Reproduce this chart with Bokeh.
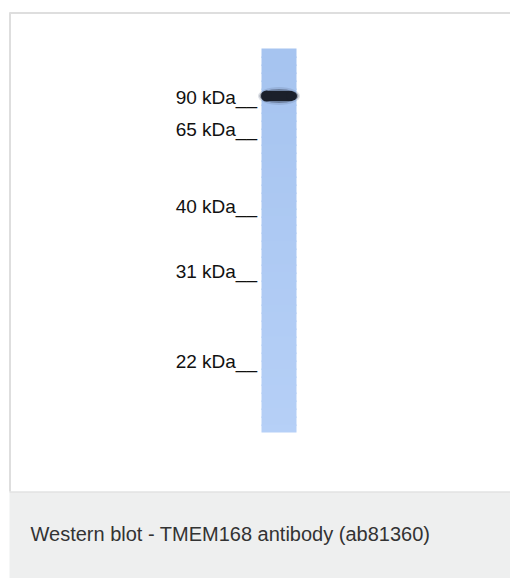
import numpy as np
from bokeh.plotting import figure
from bokeh.models import Range1d
from bokeh.embed import file_html
from bokeh.resources import INLINE
from bokeh.core.properties import value

# ---- data read from the blot ----
marker_labels = ["90 kDa__", "65 kDa__", "40 kDa__", "31 kDa__", "22 kDa__"]
marker_pos = [96.5, 129, 205.5, 271, 361]   # migration (label centre)
band_pos = [95.5]                           # migration of detected band
band_strength = [1.0]
caption = "Western blot - TMEM168 antibody (ab81360)"

# ---- layout (page pixels) ----
W, H = 510, 578
lane_l, lane_r, lane_t, lane_b = 261, 296, 48, 432

p = figure(width=W, height=H, x_range=Range1d(0, W), y_range=Range1d(H, 0),
           output_backend="svg", toolbar_location=None, min_border=0,
           x_axis_type=None, y_axis_type=None)
p.grid.visible = False
p.outline_line_color = None
p.background_fill_color = "white"
p.border_fill_color = "white"

# caption panel
p.quad(left=[9], right=[512], top=[491], bottom=[580], fill_color="#eeefef", line_color=None)
p.segment(x0=[9], y0=[491.5], x1=[512], y1=[491.5], line_color="#dcdcdc", line_width=1)
# frame lines
p.segment(x0=[9, 9.5], y0=[12.5, 12], x1=[512, 9.5], y1=[12.5, 491],
          line_color="#dedede", line_width=2)

# lane with a soft vertical gradient (overlapping strips, no seams)
n = 48
edges = np.linspace(lane_t, lane_b, n + 1)
c0 = np.array([0xa6, 0xc4, 0xf0])
c1 = np.array([0xb6, 0xd0, 0xf7])
cols = []
for i in range(n):
    t = i / (n - 1)
    c = (c0 * (1 - t) + c1 * t).astype(int)
    cols.append("#%02x%02x%02x" % tuple(c))
bottoms = [min(b + 1.5, lane_b) for b in edges[1:]]
p.quad(left=[lane_l] * n, right=[lane_r] * n, top=list(edges[:-1]), bottom=bottoms,
       fill_color=cols, line_color=None)

# band: blurred halo + rounded dark core, slightly thicker on the left
cx = (lane_l + lane_r) / 2
k = len(band_pos)
p.ellipse(x=[cx] * k, y=band_pos, width=42, height=18, fill_color="#5a6a88", fill_alpha=0.2, line_color=None)
p.ellipse(x=[cx] * k, y=band_pos, width=39, height=14, fill_color="#2a3244", fill_alpha=0.4, line_color=None)
p.rect(x=[cx] * k, y=band_pos, width=27, height=10, fill_color="#1b202b", line_color=None)
p.ellipse(x=[lane_l + 5] * k, y=band_pos, width=11, height=11, fill_color="#1b202b", line_color=None)
p.ellipse(x=[lane_r - 5] * k, y=band_pos, width=11, height=9, fill_color="#1b202b", line_color=None)

# marker labels
p.text(x=[256.5] * len(marker_labels), y=marker_pos, text=marker_labels,
       text_font=value("Liberation Sans"), text_font_size=value("19px"),
       text_align="right", text_baseline="middle", text_color="#111111")

# caption
p.text(x=[30], y=[533.5], text=[caption], text_font=value("Liberation Sans"),
       text_font_size=value("20px"), text_align="left", text_baseline="middle",
       text_color="#333333")

open("out.html", "w").write(file_html(p, INLINE))
